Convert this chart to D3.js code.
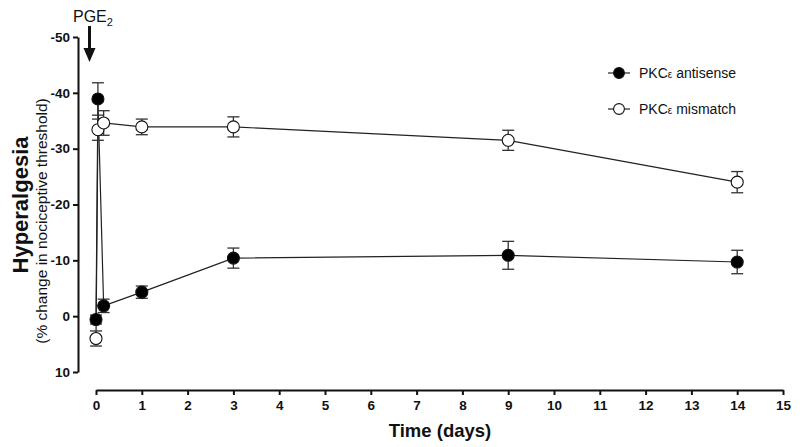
<!DOCTYPE html>
<html>
<head>
<meta charset="utf-8">
<script src="https://cdn.jsdelivr.net/npm/d3@7"></script>
<style>
  body { margin: 0; background: #fff; }
  svg { display: block; font-family: "Liberation Sans", Arial, sans-serif; }
</style>
</head>
<body>
<svg id="chart" width="800" height="447"></svg>
<script>
// ---- data ----
const times = [0, 0.042, 0.167, 1, 3, 9, 14];
const antisenseMean = [0.6, -38.9, -1.85, -4.3, -10.4, -10.9, -9.7];
const antisenseErr  = [0.8, 2.9, 1.2, 1.1, 1.8, 2.5, 2.1];
const mismatchMean  = [4.0, -33.4, -34.6, -33.9, -33.9, -31.5, -24.0];
const mismatchErr   = [1.35, 1.9, 2.2, 1.4, 1.8, 1.8, 1.9];
const xTicks = [0,1,2,3,4,5,6,7,8,9,10,11,12,13,14,15];
const yTicks = [-50,-40,-30,-20,-10,0,10];
const seriesNames = ["antisense", "mismatch"];

const svg = d3.select("#chart");
const x = d3.scaleLinear().domain([0, 15]).range([96, 783]);
const y = d3.scaleLinear().domain([-50, 10]).range([37, 372]);
const ink = "#111";

// ---- axes ----
const yAxis = svg.append("g").attr("transform", "translate(78,0)")
  .call(d3.axisLeft(y).tickValues(yTicks).tickSize(5).tickSizeOuter(0).tickPadding(3)
        .tickFormat(d => String(d)));
const xAxis = svg.append("g").attr("transform", "translate(0,390)")
  .call(d3.axisBottom(x).tickValues(xTicks).tickSize(5).tickSizeOuter(0).tickPadding(5)
        .tickFormat(d => String(d)));
[yAxis, xAxis].forEach(g => {
  g.selectAll("path, line").attr("stroke", ink).attr("stroke-width", 2);
  g.selectAll("text").attr("fill", ink).attr("font-size", 13.5).attr("font-weight", "bold")
   .attr("font-family", "'Liberation Sans', Arial, sans-serif");
});

// ---- axis titles ----
svg.append("text").attr("x", 440).attr("y", 437).attr("text-anchor", "middle")
  .attr("font-size", 18.5).attr("font-weight", "bold").attr("fill", ink).text("Time (days)");
svg.append("text").attr("transform", "translate(28,205) rotate(-90)").attr("text-anchor", "middle")
  .attr("font-size", 22).attr("font-weight", "bold").attr("fill", ink).text("Hyperalgesia");
svg.append("text").attr("transform", "translate(46.5,221) rotate(-90)").attr("text-anchor", "middle")
  .attr("font-size", 15.5).attr("fill", ink).text("(% change in nociceptive threshold)");

// ---- PGE2 arrow ----
const pge = svg.append("text").attr("x", 73).attr("y", 22).attr("font-size", 16).attr("fill", ink);
pge.append("tspan").text("PGE");
pge.append("tspan").attr("font-size", 11).attr("dy", 4).text("2");
svg.append("line").attr("x1", 89.5).attr("x2", 89.5).attr("y1", 26).attr("y2", 50)
  .attr("stroke", ink).attr("stroke-width", 3);
svg.append("path").attr("d", "M83.5,48 L95.5,48 L89.5,62 Z").attr("fill", ink);

// ---- series ----
const series = [
  { name: seriesNames[0], mean: antisenseMean, err: antisenseErr, fill: "#000" },
  { name: seriesNames[1], mean: mismatchMean, err: mismatchErr, fill: "#fff" }
];
const line = d3.line().x(d => x(d.t)).y(d => y(d.v));
const cap = 6;

series.forEach(s => {
  const pts = times.map((t, i) => ({ t, v: s.mean[i], e: s.err[i] }));
  svg.append("path").datum(pts).attr("d", line).attr("fill", "none")
    .attr("stroke", "#222").attr("stroke-width", 1.2);
  const eb = svg.append("g").attr("stroke", "#333").attr("stroke-width", 1.3);
  pts.forEach(p => {
    eb.append("line").attr("x1", x(p.t)).attr("x2", x(p.t)).attr("y1", y(p.v - p.e)).attr("y2", y(p.v + p.e));
    eb.append("line").attr("x1", x(p.t) - cap).attr("x2", x(p.t) + cap).attr("y1", y(p.v - p.e)).attr("y2", y(p.v - p.e));
    eb.append("line").attr("x1", x(p.t) - cap).attr("x2", x(p.t) + cap).attr("y1", y(p.v + p.e)).attr("y2", y(p.v + p.e));
  });
  s.pts = pts;
});
series.forEach(s => {
  svg.append("g").selectAll("circle").data(s.pts).join("circle")
    .attr("cx", d => x(d.t)).attr("cy", d => y(d.v)).attr("r", 6)
    .attr("fill", s.fill).attr("stroke", "#111").attr("stroke-width", 1.1);
});

// ---- legend ----
const legendY = [73, 109];
series.forEach((s, i) => {
  const g = svg.append("g").attr("transform", `translate(0,${legendY[i]})`);
  g.append("line").attr("x1", 608).attr("x2", 630).attr("y1", 0).attr("y2", 0)
    .attr("stroke", "#222").attr("stroke-width", 1.2);
  g.append("circle").attr("cx", 619).attr("cy", 0).attr("r", 5.4)
    .attr("fill", s.fill).attr("stroke", "#111").attr("stroke-width", 1.1);
  const t = g.append("text").attr("x", 639).attr("y", 5).attr("font-size", 14).attr("fill", ink);
  t.append("tspan").text("PKC");
  t.append("tspan").attr("font-size", 10).text("ε");
  t.append("tspan").text(" " + s.name);
});
</script>
</body>
</html>
